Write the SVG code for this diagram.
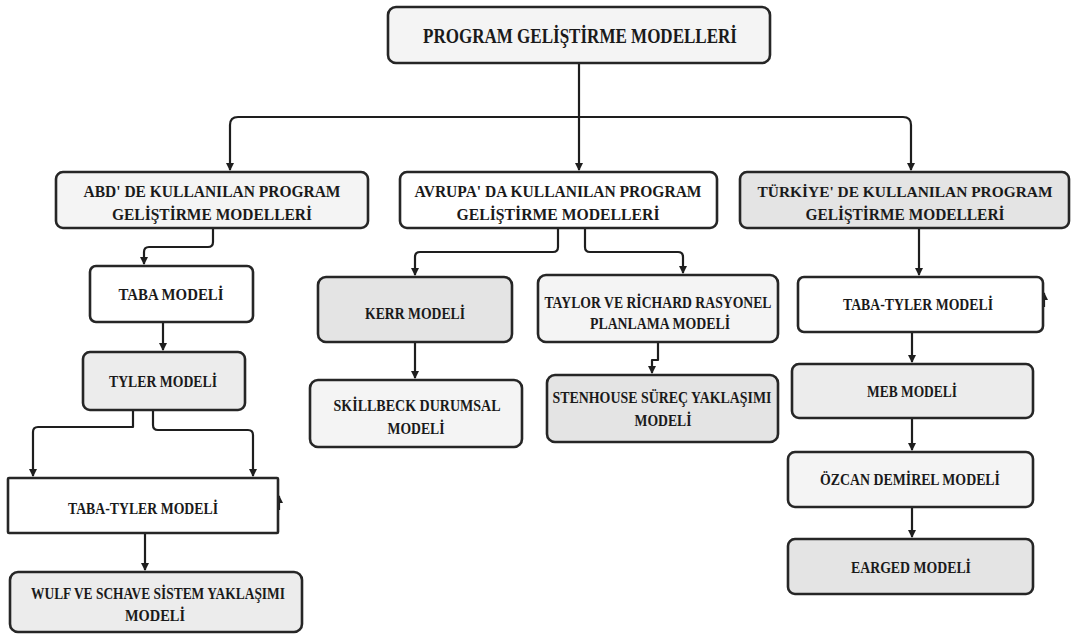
<svg xmlns="http://www.w3.org/2000/svg" width="1072" height="637" viewBox="0 0 1072 637">
  <defs>
    <marker id="arrow" viewBox="0 0 8 8" refX="7" refY="4" markerWidth="8" markerHeight="8" markerUnits="userSpaceOnUse" orient="auto">
      <path d="M0,0 L8,4 L0,8 z" fill="#1e1e1e"/>
    </marker>
    <style>
      .box { stroke: #262626; stroke-width: 2.6; }
      .w { fill: #ffffff; }
      .l { fill: #f4f4f4; }
      .m { fill: #ececec; }
      .d { fill: #e4e4e4; }
      .t { font-family: "Liberation Serif", "Times New Roman", serif; font-weight: bold; font-size: 16.5px; fill: #1a1a1a; text-anchor: middle; }
      .big { font-size: 21px; }
      .sm { font-size: 15.5px; }
      .c { fill: none; stroke: #1e1e1e; stroke-width: 2.2; stroke-linejoin: round; }
    </style>
  </defs>
  <rect width="1072" height="637" fill="#ffffff"/>

  <!-- connectors -->
  <g id="connectors">
    <path class="c" d="M579,63 V170" marker-end="url(#arrow)"/>
    <path class="c" d="M579,117 H238 Q230,117 230,125 V170" marker-end="url(#arrow)"/>
    <path class="c" d="M579,117 H903 Q911,117 911,125 V170" marker-end="url(#arrow)"/>
    <path class="c" d="M213,228 V242 Q213,247 208,247 H149 Q144,247 144,252 V264" marker-end="url(#arrow)"/>
    <path class="c" d="M163,322 V350" marker-end="url(#arrow)"/>
    <path class="c" d="M133,410 V427 H38 Q33,427 33,432 V476" marker-end="url(#arrow)"/>
    <path class="c" d="M153,410 V425 Q153,430 158,430 H248 Q253,430 253,435 V476" marker-end="url(#arrow)"/>
    <path class="c" d="M145,533 V570" marker-end="url(#arrow)"/>
    <path class="c" d="M279,510 V496" marker-end="url(#arrow)"/>
    <path class="c" d="M558,228 V247 Q558,252 553,252 H420 Q415,252 415,257 V275" marker-end="url(#arrow)"/>
    <path class="c" d="M585,228 V247 Q585,252 590,252 H678 Q683,252 683,257 V273" marker-end="url(#arrow)"/>
    <path class="c" d="M415,342 V378" marker-end="url(#arrow)"/>
    <path class="c" d="M658,342 V360 H652 V373" marker-end="url(#arrow)"/>
    <path class="c" d="M919,228 V275" marker-end="url(#arrow)"/>
    <path class="c" d="M1044,307 V293" marker-end="url(#arrow)"/>
    <path class="c" d="M912,332 V362" marker-end="url(#arrow)"/>
    <path class="c" d="M912,418 V450" marker-end="url(#arrow)"/>
    <path class="c" d="M912,507 V537" marker-end="url(#arrow)"/>
  </g>

  <g id="root">
    <rect class="box l" x="388" y="7" width="382" height="56" rx="8"/>
    <text class="t big" x="580" y="43" textLength="314" lengthAdjust="spacingAndGlyphs">PROGRAM GELİŞTİRME MODELLERİ</text>
  </g>

  <g id="abd">
    <rect class="box l" x="56" y="172" width="312" height="56" rx="7"/>
    <text class="t" x="212" y="197" textLength="257" lengthAdjust="spacingAndGlyphs">ABD' DE KULLANILAN PROGRAM</text>
    <text class="t" x="212" y="220" textLength="200" lengthAdjust="spacingAndGlyphs">GELİŞTİRME MODELLERİ</text>
  </g>

  <g id="avrupa">
    <rect class="box w" x="400" y="172" width="317" height="56" rx="7"/>
    <text class="t" x="558" y="197" textLength="287" lengthAdjust="spacingAndGlyphs">AVRUPA' DA KULLANILAN PROGRAM</text>
    <text class="t" x="558" y="220" textLength="203" lengthAdjust="spacingAndGlyphs">GELİŞTİRME MODELLERİ</text>
  </g>

  <g id="turkiye">
    <rect class="box d" x="740" y="172" width="329" height="56" rx="7"/>
    <text class="t sm" x="905" y="197" textLength="295" lengthAdjust="spacingAndGlyphs">TÜRKİYE' DE KULLANILAN PROGRAM</text>
    <text class="t" x="905" y="220" textLength="199" lengthAdjust="spacingAndGlyphs">GELİŞTİRME MODELLERİ</text>
  </g>

  <g id="taba">
    <rect class="box w" x="90" y="266" width="163" height="56" rx="6"/>
    <text class="t" x="171" y="300" textLength="105" lengthAdjust="spacingAndGlyphs">TABA MODELİ</text>
  </g>

  <g id="tyler">
    <rect class="box m" x="83" y="352" width="162" height="58" rx="7"/>
    <text class="t" x="163" y="387" textLength="108" lengthAdjust="spacingAndGlyphs">TYLER MODELİ</text>
  </g>

  <g id="taba-tyler-abd">
    <rect class="box w" x="8" y="478" width="270" height="55" rx="1"/>
    <text class="t" x="143" y="514" textLength="150" lengthAdjust="spacingAndGlyphs">TABA-TYLER MODELİ</text>
  </g>

  <g id="wulf">
    <rect class="box m" x="10" y="572" width="292" height="60" rx="8"/>
    <text class="t" x="158" y="599" textLength="254" lengthAdjust="spacingAndGlyphs">WULF VE SCHAVE SİSTEM YAKLAŞIMI</text>
    <text class="t" x="155" y="621" textLength="60" lengthAdjust="spacingAndGlyphs">MODELİ</text>
  </g>

  <g id="kerr">
    <rect class="box d" x="318" y="277" width="194" height="65" rx="8"/>
    <text class="t" x="415" y="319" textLength="100" lengthAdjust="spacingAndGlyphs">KERR MODELİ</text>
  </g>

  <g id="skillbeck">
    <rect class="box l" x="310" y="380" width="212" height="67" rx="8"/>
    <text class="t" x="417" y="411" textLength="167" lengthAdjust="spacingAndGlyphs">SKİLLBECK DURUMSAL</text>
    <text class="t" x="416" y="434" textLength="57" lengthAdjust="spacingAndGlyphs">MODELİ</text>
  </g>

  <g id="taylor">
    <rect class="box l" x="538" y="275" width="240" height="67" rx="8"/>
    <text class="t" x="658" y="308" textLength="227" lengthAdjust="spacingAndGlyphs">TAYLOR VE RİCHARD RASYONEL</text>
    <text class="t" x="660" y="329" textLength="140" lengthAdjust="spacingAndGlyphs">PLANLAMA MODELİ</text>
  </g>

  <g id="stenhouse">
    <rect class="box d" x="547" y="375" width="231" height="67" rx="8"/>
    <text class="t" x="662" y="403" textLength="219" lengthAdjust="spacingAndGlyphs">STENHOUSE SÜREÇ YAKLAŞIMI</text>
    <text class="t" x="663" y="426" textLength="57" lengthAdjust="spacingAndGlyphs">MODELİ</text>
  </g>

  <g id="taba-tyler-tr">
    <rect class="box w" x="798" y="277" width="245" height="55" rx="6"/>
    <text class="t" x="918" y="310" textLength="150" lengthAdjust="spacingAndGlyphs">TABA-TYLER MODELİ</text>
  </g>

  <g id="meb">
    <rect class="box m" x="792" y="364" width="241" height="54" rx="7"/>
    <text class="t" x="912" y="397" textLength="90" lengthAdjust="spacingAndGlyphs">MEB MODELİ</text>
  </g>

  <g id="ozcan">
    <rect class="box l" x="788" y="452" width="245" height="55" rx="7"/>
    <text class="t" x="910" y="485" textLength="180" lengthAdjust="spacingAndGlyphs">ÖZCAN DEMİREL MODELİ</text>
  </g>

  <g id="earged">
    <rect class="box d" x="788" y="539" width="245" height="55" rx="7"/>
    <text class="t" x="911" y="573" textLength="120" lengthAdjust="spacingAndGlyphs">EARGED MODELİ</text>
  </g>
</svg>
